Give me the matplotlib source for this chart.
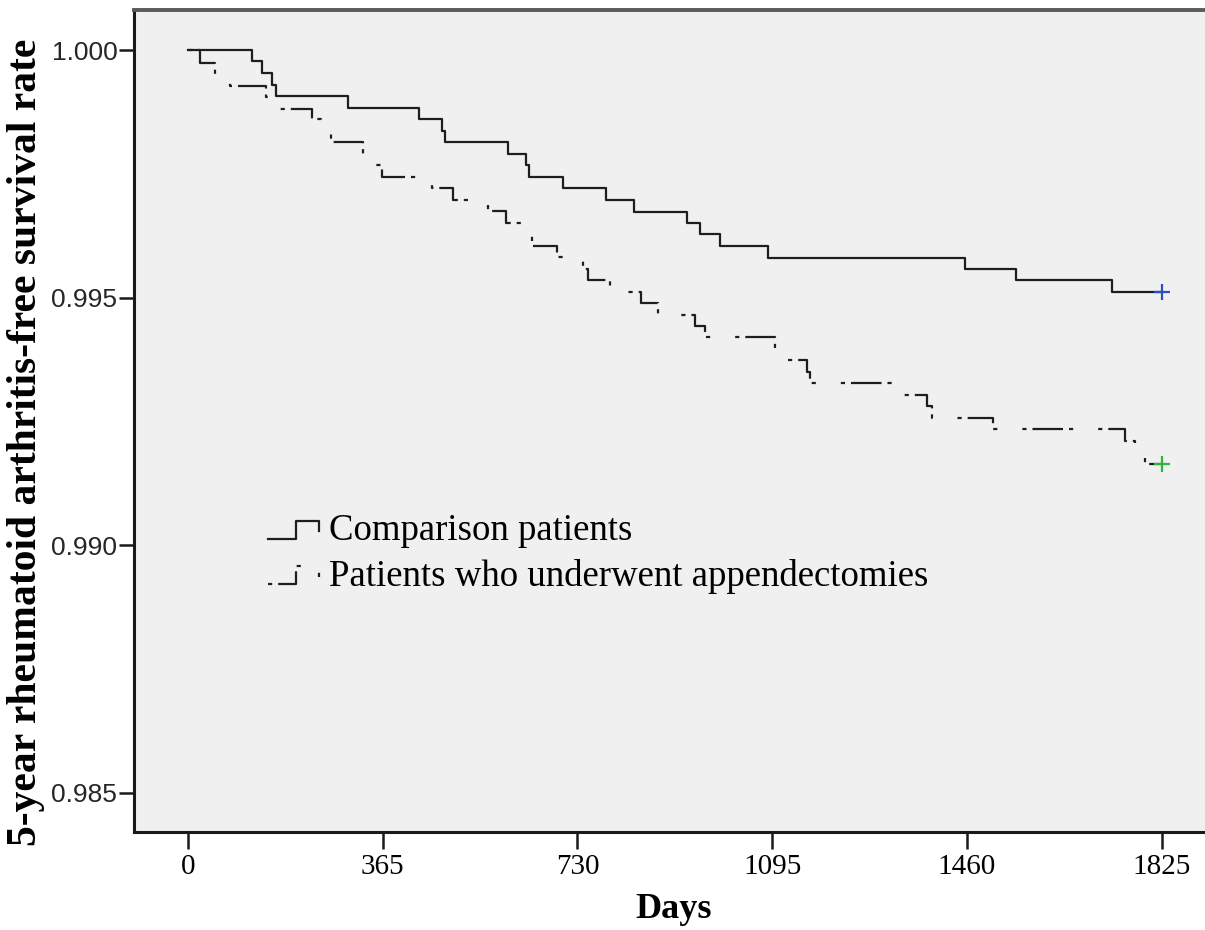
import numpy as np
import matplotlib
matplotlib.use("Agg")
import matplotlib.pyplot as plt
from matplotlib.lines import Line2D
from matplotlib.legend_handler import HandlerBase

# Kaplan-Meier steps (day of event, survival after it)
comp_days = [0, 121, 138, 157, 166, 300, 433, 477, 481, 599, 634, 640, 702,
             784, 836, 936, 959, 997, 1087, 1457, 1551, 1732]
comp_surv = [1.0, 0.99977, 0.99953, 0.99930, 0.99907, 0.99884, 0.99860,
             0.99837, 0.99814, 0.99791, 0.99767, 0.99744, 0.99721, 0.99698,
             0.99674, 0.99651, 0.99628, 0.99605, 0.99581, 0.99558, 0.99535,
             0.99512]

app_days = [0, 22, 51, 79, 146, 163, 232, 250, 269, 329, 345, 363, 457, 497,
            563, 597, 636, 645, 691, 740, 750, 791, 850, 881, 950, 969, 1100,
            1102, 1160, 1165, 1325, 1385, 1395, 1508, 1756, 1775, 1793]
app_surv = [1.0, 0.99974, 0.99951, 0.99928, 0.99905, 0.99882, 0.99860,
            0.99837, 0.99814, 0.99790, 0.99767, 0.99744, 0.99721, 0.99697,
            0.99675, 0.99651, 0.99628, 0.99605, 0.99582, 0.99558, 0.99535,
            0.99512, 0.99489, 0.99466, 0.99443, 0.99420, 0.99397, 0.99374,
            0.99350, 0.99327, 0.99303, 0.99281, 0.99258, 0.99234, 0.99211,
            0.99188, 0.99165]

censor_day = 1825
labels = ["Comparison patients", "Patients who underwent appendectomies"]
x_ticks = [0, 365, 730, 1095, 1460, 1825]
y_ticks = [0.985, 0.990, 0.995, 1.000]

plt.rcParams['font.family'] = ['Liberation Serif', 'DejaVu Serif']
plt.rcParams['lines.scale_dashes'] = False


class StepHandler(HandlerBase):
    # little step icon like the SPSS legend
    def create_artists(self, legend, orig_handle, xdescent, ydescent,
                       width, height, fontsize, trans):
        xs = np.array([0, 0.55, 0.55, 1.0, 1.0]) * width - xdescent
        ys = np.array([0.05, 0.05, 0.75, 0.75, 0.35]) * height - ydescent
        line = Line2D(xs, ys)
        line.update_from(orig_handle)
        line.set_transform(trans)
        return [line]


fig = plt.figure(figsize=(12.05, 9.3), dpi=100)
ax = fig.add_axes([134 / 1205, 98 / 930, 1 - 134 / 1205, 822 / 930])
ax.set_facecolor('#f0f0f0')

x1 = comp_days + [censor_day]
y1 = comp_surv + [comp_surv[-1]]
l1, = ax.step(x1, y1, where='post', color='#1e1e1e', lw=1.6)

x2 = app_days + [censor_day]
y2 = app_surv + [app_surv[-1]]
l2, = ax.step(x2, y2, where='post', color='#1e1e1e', lw=1.6)
l2.set_dashes((3, 4.3, 22, 4.3, 3, 18))

ax.plot(censor_day, comp_surv[-1], '+', color='#2e4fc0', ms=12, mew=1.6)
ax.plot(censor_day, app_surv[-1], '+', color='#2fb43c', ms=12, mew=1.6)

ax.set_xlim(-101, 1906)
ax.set_ylim(0.98421, 1.00081)
ax.set_xticks(x_ticks)
ax.set_xticklabels([str(t) for t in x_ticks], fontsize=21)
ax.set_yticks(y_ticks)
ax.set_yticklabels(['%.3f' % t for t in y_ticks], fontsize=19, color='#262626',
                   family=['Liberation Sans Narrow', 'Liberation Sans', 'DejaVu Sans'])
ax.tick_params(axis='y', length=11, width=1.8, pad=1, color='#1a1a1a')
ax.tick_params(axis='x', length=12, width=1.8, pad=4, color='#1a1a1a')

ax.spines['right'].set_visible(False)
ax.spines['left'].set_linewidth(2.2)
ax.spines['bottom'].set_linewidth(2.2)
ax.spines['left'].set_color('#1a1a1a')
ax.spines['bottom'].set_color('#1a1a1a')
ax.spines['top'].set_linewidth(2.8)
ax.spines['top'].set_color('#5a5a5a')

ax.set_ylabel("5-year rheumatoid arthritis-free survival rate",
              fontsize=30, fontweight='bold')
ax.yaxis.set_label_coords(-0.083, 0.474)
ax.set_xlabel("Days", fontsize=26, fontweight='bold')
ax.xaxis.set_label_coords(0.504, -0.074)

ax.legend([l1, l2], labels, handler_map={Line2D: StepHandler()},
          loc='upper left', bbox_to_anchor=(0.125, 0.387), frameon=False,
          fontsize=26.5, borderpad=0, borderaxespad=0, handlelength=1.4,
          handletextpad=0.25, labelspacing=0.28)

fig.savefig('out.png', dpi=100)
